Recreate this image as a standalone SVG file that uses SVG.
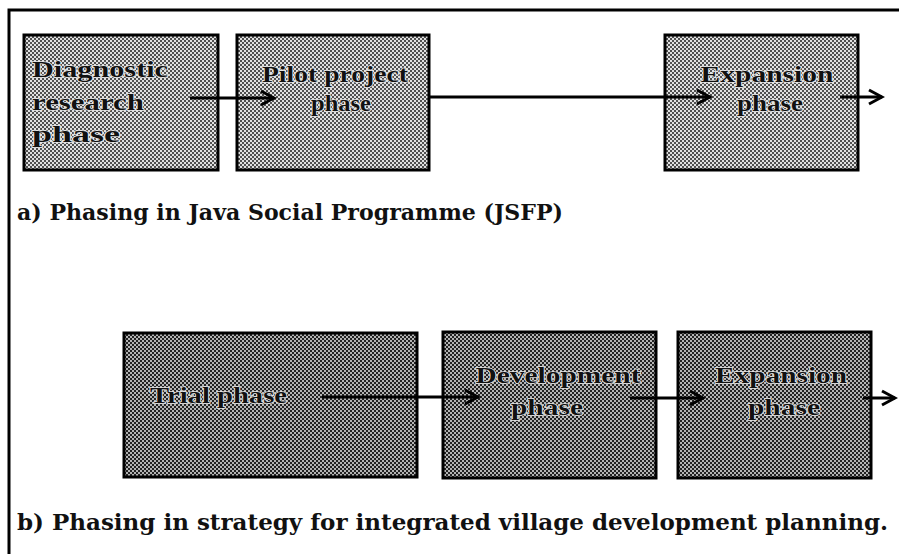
<svg xmlns="http://www.w3.org/2000/svg" width="899" height="554" viewBox="0 0 899 554">
  <defs>
    <!-- halftone screens for the phase boxes -->
    <pattern id="screenLight" width="4" height="4" patternUnits="userSpaceOnUse">
      <rect width="4" height="4" fill="#e0e0e0"/>
      <rect x="0" y="0" width="2" height="2" fill="#505050"/>
      <rect x="2" y="2" width="2" height="2" fill="#505050"/>
    </pattern>
    <pattern id="screenDark" width="4" height="4" patternUnits="userSpaceOnUse">
      <rect width="4" height="4" fill="#b4b4b4"/>
      <rect x="0" y="0" width="2" height="2" fill="#222"/>
      <rect x="2" y="2" width="2" height="2" fill="#222"/>
    </pattern>
    <marker id="chevron" markerWidth="18" markerHeight="18" refX="15" refY="9" orient="auto" markerUnits="userSpaceOnUse">
      <path d="M2,2 L15,9 L2,16" fill="none" stroke="#000" stroke-width="3" stroke-linejoin="miter"/>
    </marker>
  </defs>
  <style>
    .frame { stroke: #000; stroke-width: 3; fill: none; }
    .box-a { fill: url(#screenLight); stroke: #000; stroke-width: 3; }
    .box-b { fill: url(#screenDark); stroke: #000; stroke-width: 3; }
    .label { font-family: "Liberation Serif", "DejaVu Serif", serif; font-weight: bold; font-size: 23px; fill: #111; stroke: #e8e8e8; stroke-width: 1.5; paint-order: stroke; }
    .mid { text-anchor: middle; }
    .caption { font-family: "DejaVu Serif", "Liberation Serif", serif; font-weight: bold; font-size: 23px; fill: #111; }
    .link { stroke: #000; stroke-width: 3; fill: none; marker-end: url(#chevron); }
  </style>

  <rect width="899" height="554" fill="#fff"/>

  <!-- frame: top and left rules -->
  <path class="frame" d="M9,554 L9,10 L899,10"/>

  <!-- a) JSFP phases -->
  <g id="diagnostic">
    <rect class="box-a" x="24" y="35" width="194" height="135"/>
    <text class="label" x="32" y="77" textLength="136" lengthAdjust="spacingAndGlyphs">Diagnostic</text>
    <text class="label" x="32" y="110" textLength="112" lengthAdjust="spacingAndGlyphs">research</text>
    <text class="label" x="32" y="142" textLength="88" lengthAdjust="spacingAndGlyphs">phase</text>
  </g>
  <g id="pilot">
    <rect class="box-a" x="237" y="35" width="192" height="135"/>
    <text class="label mid" x="335" y="82" textLength="146" lengthAdjust="spacingAndGlyphs">Pilot project</text>
    <text class="label mid" x="341" y="111" textLength="60" lengthAdjust="spacingAndGlyphs">phase</text>
  </g>
  <g id="expansion-a">
    <rect class="box-a" x="665" y="35" width="193" height="135"/>
    <text class="label mid" x="767" y="82" textLength="133" lengthAdjust="spacingAndGlyphs">Expansion</text>
    <text class="label mid" x="770" y="111" textLength="66" lengthAdjust="spacingAndGlyphs">phase</text>
  </g>
  <g id="caption-a">
    <text class="caption" x="17" y="220" textLength="546" lengthAdjust="spacingAndGlyphs">a) Phasing in Java Social Programme (JSFP)</text>
  </g>

  <!-- b) village development planning phases -->
  <g id="trial">
    <rect class="box-b" x="124" y="333" width="293" height="144"/>
    <text class="label" x="150" y="403" textLength="137" lengthAdjust="spacingAndGlyphs">Trial phase</text>
  </g>
  <g id="development">
    <rect class="box-b" x="443" y="332" width="213" height="146"/>
    <text class="label mid" x="558" y="383" textLength="165" lengthAdjust="spacingAndGlyphs">Development</text>
    <text class="label mid" x="547" y="415" textLength="72" lengthAdjust="spacingAndGlyphs">phase</text>
  </g>
  <g id="expansion-b">
    <rect class="box-b" x="678" y="332" width="193" height="146"/>
    <text class="label mid" x="781" y="383" textLength="132" lengthAdjust="spacingAndGlyphs">Expansion</text>
    <text class="label mid" x="784" y="415" textLength="72" lengthAdjust="spacingAndGlyphs">phase</text>
  </g>
  <g id="caption-b">
    <text class="caption" x="17" y="530" textLength="871" lengthAdjust="spacingAndGlyphs">b) Phasing in strategy for integrated village development planning.</text>
  </g>

  <!-- connectors -->
  <g id="connectors">
    <line class="link" x1="190" y1="98" x2="274" y2="98"/>
    <line class="link" x1="429" y1="97" x2="710" y2="97"/>
    <line class="link" x1="840" y1="97" x2="882" y2="97"/>
    <line class="link" x1="322" y1="397" x2="478" y2="397"/>
    <line class="link" x1="630" y1="398" x2="703" y2="398"/>
    <line class="link" x1="863" y1="398" x2="895" y2="398"/>
  </g>
</svg>
